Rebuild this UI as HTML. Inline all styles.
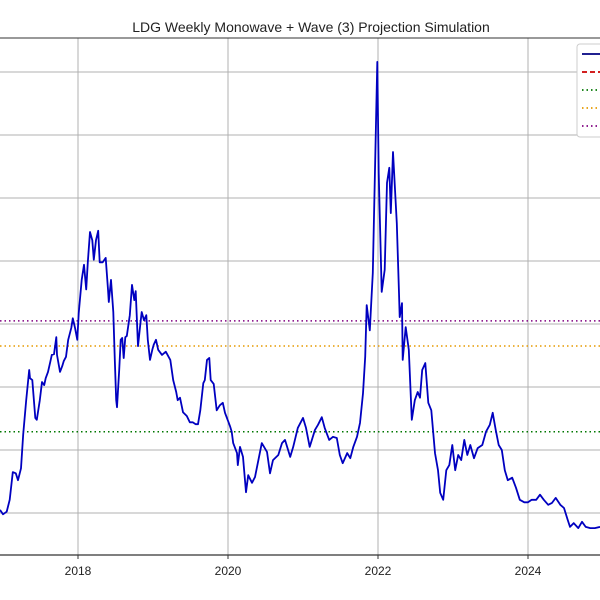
<!DOCTYPE html>
<html><head><meta charset="utf-8"><style>
body{margin:0;background:#fff;width:600px;height:600px;overflow:hidden}
svg{display:block;font-family:"Liberation Sans","DejaVu Sans",sans-serif}
</style></head><body>
<svg id="chart" width="600" height="600">
<text x="311" y="32" text-anchor="middle" font-size="14" fill="#222">LDG Weekly Monowave + Wave (3) Projection Simulation</text>
<g id="grid"></g>
<g id="levels"></g>
<g id="series"></g>
<g id="axes"></g>
<g id="legend"></g>
</svg>
<script>
const dates=[2016.96,2017.00,2017.05,2017.09,2017.13,2017.17,2017.20,2017.24,2017.27,2017.31,2017.35,2017.36,2017.39,2017.43,2017.45,2017.49,2017.52,2017.55,2017.57,2017.60,2017.63,2017.65,2017.68,2017.71,2017.72,2017.76,2017.79,2017.81,2017.84,2017.87,2017.91,2017.93,2017.96,2017.99,2018.01,2018.05,2018.08,2018.11,2018.13,2018.16,2018.19,2018.21,2018.24,2018.27,2018.29,2018.33,2018.37,2018.40,2018.41,2018.44,2018.47,2018.49,2018.51,2018.52,2018.55,2018.57,2018.59,2018.61,2018.63,2018.65,2018.69,2018.72,2018.75,2018.77,2018.80,2018.83,2018.85,2018.88,2018.91,2018.93,2018.96,2018.99,2019.01,2019.04,2019.07,2019.12,2019.17,2019.23,2019.27,2019.31,2019.33,2019.36,2019.40,2019.45,2019.49,2019.53,2019.57,2019.60,2019.63,2019.67,2019.69,2019.72,2019.75,2019.77,2019.81,2019.85,2019.89,2019.93,2019.96,2020.03,2020.05,2020.07,2020.12,2020.13,2020.16,2020.20,2020.24,2020.27,2020.32,2020.36,2020.45,2020.52,2020.56,2020.60,2020.67,2020.72,2020.76,2020.83,2020.87,2020.93,2021.00,2021.04,2021.09,2021.16,2021.20,2021.25,2021.29,2021.35,2021.40,2021.45,2021.49,2021.53,2021.59,2021.63,2021.67,2021.72,2021.76,2021.80,2021.83,2021.85,2021.89,2021.93,2021.99,2022.01,2022.05,2022.09,2022.12,2022.15,2022.17,2022.20,2022.25,2022.28,2022.29,2022.32,2022.33,2022.37,2022.41,2022.45,2022.49,2022.53,2022.56,2022.59,2022.63,2022.67,2022.71,2022.76,2022.80,2022.83,2022.87,2022.91,2022.95,2022.99,2023.03,2023.07,2023.11,2023.15,2023.19,2023.23,2023.28,2023.33,2023.39,2023.44,2023.49,2023.53,2023.57,2023.61,2023.65,2023.69,2023.73,2023.79,2023.84,2023.89,2023.95,2024.00,2024.05,2024.11,2024.16,2024.21,2024.27,2024.32,2024.37,2024.43,2024.48,2024.53,2024.56,2024.61,2024.67,2024.72,2024.77,2024.83,2024.89,2024.96];
const prices=[10.5,9.8,10.2,12.1,16.5,16.3,15.2,17.1,22.5,27.9,32.7,31.4,31.1,25.1,24.8,27.9,30.8,30.3,31.4,32.4,34.0,35.1,35.2,37.9,35.1,32.4,33.3,34.1,34.8,37.5,39.4,40.9,39.4,37.5,41.7,47.0,49.4,45.5,49.8,54.6,53.3,50.2,53.3,54.8,49.8,49.8,50.5,45.5,43.5,47.0,41.9,34.3,27.9,26.8,32.7,37.5,37.8,34.6,37.9,38.1,41.4,46.2,43.8,45.2,36.5,39.8,41.9,40.6,41.4,37.5,34.3,35.9,36.7,37.5,35.9,35.1,35.6,34.3,31.1,29.2,27.9,28.3,26.0,25.4,24.4,24.4,24.1,24.1,26.3,30.6,31.1,34.3,34.6,31.1,30.5,26.3,27.1,27.5,25.9,23.7,22.9,21.1,19.5,17.6,20.5,18.9,13.3,16.0,14.8,15.7,21.1,19.7,16.3,18.4,19.2,21.1,21.6,18.9,20.5,23.5,25.1,23.5,20.5,23.2,24.0,25.2,23.5,21.6,22.1,21.9,19.2,17.9,19.5,18.7,20.5,22.1,24.3,29.0,34.8,43.0,39.0,48.1,81.6,64.0,45.1,48.6,62.4,64.8,57.6,67.3,56.0,44.9,41.1,43.3,34.3,39.5,35.9,24.8,27.9,29.2,28.3,32.7,33.8,27.5,26.3,19.5,16.8,13.2,12.1,16.8,17.6,20.8,16.8,19.2,18.4,21.6,19.2,20.8,18.7,20.3,20.8,22.9,24.0,25.9,23.2,20.8,20.0,16.8,15.2,15.6,14.0,12.1,11.7,11.7,12.1,12.1,12.9,12.1,11.3,11.6,12.4,11.3,10.8,8.9,7.8,8.4,7.6,8.6,7.8,7.6,7.6,7.8];
const levelValues=[40.5,36.5,22.9];
const levelColors=["#800080","#e69a00","#007700"];
const xTicks=[2018,2020,2022,2024];
const yGrid=[10,20,30,40,50,60,70,80];
const legendLabels=["Price","Wave (3) target","Level 1","Level 2","Level 3"];

const NS="http://www.w3.org/2000/svg";
const X=t=>78+(t-2018)*75;
const Y=v=>513-(v-10)*6.3;
function mk(tag,attrs,parent){const e=document.createElementNS(NS,tag);for(const k in attrs)e.setAttribute(k,attrs[k]);parent.appendChild(e);return e;}
const grid=document.getElementById('grid'),axes=document.getElementById('axes'),levels=document.getElementById('levels'),series=document.getElementById('series'),legend=document.getElementById('legend');
yGrid.forEach(v=>{const l=mk('line',{x1:0,x2:600,y1:Y(v),y2:Y(v),stroke:'#b0b0b0','stroke-width':1},grid);

});
xTicks.forEach(t=>{const l=mk('line',{x1:X(t),x2:X(t),y1:38,y2:555,stroke:'#b0b0b0','stroke-width':1},grid);


const tk=mk('line',{x1:X(t),x2:X(t),y1:555,y2:559,stroke:'#333','stroke-width':1},axes);


const tx=mk('text',{x:X(t),y:575,'text-anchor':'middle','font-size':12,fill:'#222'},axes);tx.textContent=t;

});
const topSpine=mk('line',{x1:0,x2:600,y1:38,y2:38,stroke:'#333','stroke-width':1},axes);


const botSpine=mk('line',{x1:0,x2:600,y1:555,y2:555,stroke:'#333','stroke-width':1.2},axes);


levelValues.forEach((v,i)=>{const l=mk('line',{x1:0,x2:600,y1:Y(v),y2:Y(v),stroke:levelColors[i],'stroke-width':1.5,'stroke-dasharray':'1.5 3'},levels);

});
const priceLine=mk('polyline',{points:dates.map((d,i)=>X(d).toFixed(1)+','+Y(prices[i]).toFixed(1)).join(' '),fill:'none',stroke:'#0000c0','stroke-width':1.8,'stroke-linejoin':'round'},series);


const box=mk('rect',{x:577,y:44,width:40,height:93,rx:3,fill:'#fff',stroke:'#ccc'},legend);


const lc=["#000080","#cc0000","#007700","#e69a00","#800080"],ld=["","5 3","1.5 3","1.5 3","1.5 3"];
legendLabels.forEach((lab,i)=>{const y=54+i*18;const l=mk('line',{x1:582,x2:602,y1:y,y2:y,stroke:lc[i],'stroke-width':1.8},legend);if(ld[i])l.setAttribute('stroke-dasharray',ld[i]);


const t=mk('text',{x:608,y:y+4,'font-size':11},legend);t.textContent=lab;

});
</script>
</body></html>
